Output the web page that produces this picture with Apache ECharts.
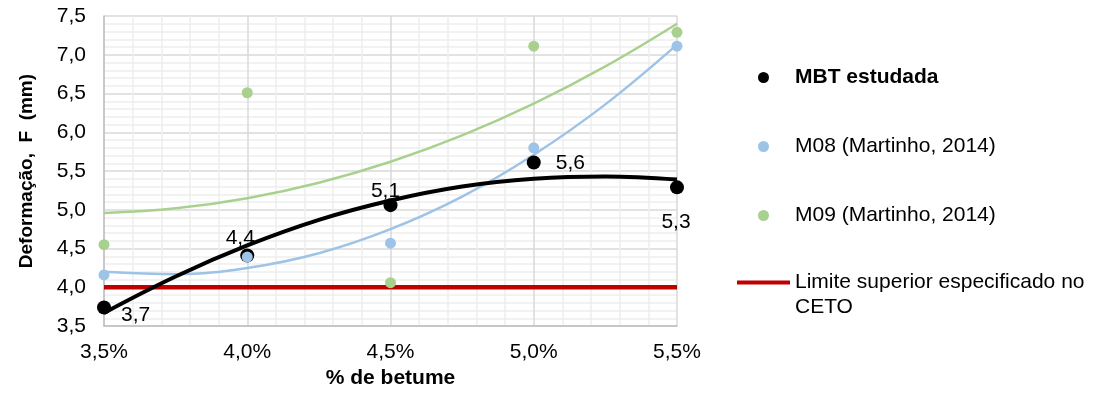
<!DOCTYPE html>
<html>
<head>
<meta charset="utf-8">
<script src="https://cdn.jsdelivr.net/npm/echarts@6/dist/echarts.min.js"></script>
<style>
  html, body { margin: 0; padding: 0; background: #fff; }
  #chart { width: 1093px; height: 394px; }
</style>
</head>
<body>
<div id="chart"></div>
<script>
// Bitumen content (%) of each tested mixture
const bitumen = [3.5, 4.0, 4.5, 5.0, 5.5];
// Deformation F (mm) per mixture
const mbt = [3.74, 4.41, 5.06, 5.61, 5.29];
const m08 = [4.16, 4.39, 4.57, 5.80, 7.11];
const m09 = [4.55, 6.51, 4.06, 7.11, 7.29];
// Specified upper limit (CETO)
const cetoLimit = 4.0;

// Polynomial trend curves, sampled along the bitumen range
const trendX = [3.5, 3.75, 4.0, 4.25, 4.5, 4.75, 5.0, 5.25, 5.5];
const mbtTrend = [3.67, 4.14, 4.54, 4.87, 5.12, 5.30, 5.40, 5.43, 5.39];
const m08Trend = [4.20, 4.17, 4.25, 4.44, 4.75, 5.17, 5.71, 6.36, 7.13];
const m09Trend = [4.96, 5.02, 5.15, 5.35, 5.62, 5.96, 6.37, 6.85, 7.40];

// Axis ticks
const xTicks = { min: 3.5, max: 5.5, step: 0.5 };
const yTicks = { min: 3.5, max: 7.5, step: 0.5 };

const names = {
  mbt: 'MBT estudada',
  m08: 'M08 (Martinho, 2014)',
  m09: 'M09 (Martinho, 2014)',
  limit: 'Limite superior especificado no CETO'
};

const FONT = '"Liberation Sans", Arial, sans-serif';
const FS = 21;
const comma = (v, d) => v.toFixed(d).replace('.', ',');
const pairs = (xs, ys) => xs.map((x, i) => [x, ys[i]]);

// where each MBT value label sits relative to its point
const mbtLabelPlace = [
  { position: 'right', offset: [5, 8] },
  { position: 'top', offset: [-7, 5] },
  { position: 'top', offset: [-5, 9] },
  { position: 'right', offset: [10, 1] },
  { position: 'bottom', offset: [-1, 12] }
];

const chart = echarts.init(document.getElementById('chart'), null, { renderer: 'canvas' });

const trendLine = (name, data, color, width, z) => ({
  name: name,
  type: 'line',
  data: pairs(trendX, data),
  smooth: 0.4,
  showSymbol: false,
  symbol: 'none',
  lineStyle: { color: color, width: width },
  silent: true,
  z: z
});

const legendText = { fontFamily: FONT, fontSize: FS, color: '#000' };

chart.setOption({
  animation: false,
  textStyle: { fontFamily: FONT },
  grid: { left: 104, right: 416, top: 16, bottom: 64, containLabel: false },
  legend: [
    {
      orient: 'vertical',
      left: 758,
      top: 67,
      padding: 0,
      itemWidth: 53,
      itemHeight: 11,
      itemGap: 48,
      textStyle: legendText,
      data: [
        { name: names.mbt, textStyle: { fontWeight: 'bold' } },
        { name: names.m08 },
        { name: names.m09 }
      ]
    },
    {
      orient: 'vertical',
      left: 737,
      top: 245,
      padding: 0,
      itemWidth: 53,
      itemHeight: 11,
      textStyle: Object.assign({ lineHeight: 25 }, legendText),
      formatter: () => '\nLimite superior especificado no\nCETO',
      data: [
        { name: names.limit, icon: 'path://M0,0H100V8H0Z' }
      ]
    }
  ],
  xAxis: {
    type: 'value',
    min: xTicks.min,
    max: xTicks.max,
    interval: xTicks.step,
    name: '% de betume',
    nameLocation: 'middle',
    nameGap: 35,
    nameTextStyle: { fontFamily: FONT, fontSize: FS, fontWeight: 'bold', color: '#000' },
    axisLine: { show: true, lineStyle: { color: '#bfbfbf', width: 1.5 } },
    axisTick: { show: false },
    axisLabel: {
      margin: 16,
      fontSize: FS,
      color: '#000',
      fontFamily: FONT,
      formatter: v => comma(v, 1) + '%'
    },
    splitLine: { show: true, lineStyle: { color: '#d9d9d9', width: 1.5 } },
    minorTick: { show: false, splitNumber: 5 },
    minorSplitLine: { show: true, lineStyle: { color: '#eeeeee', width: 1.5 } }
  },
  yAxis: {
    type: 'value',
    min: yTicks.min,
    max: yTicks.max,
    interval: yTicks.step,
    name: 'Deformação,  F  (mm)',
    nameLocation: 'middle',
    nameGap: 68,
    nameTextStyle: { fontFamily: FONT, fontSize: 19, fontWeight: 'bold', color: '#000' },
    axisLine: { show: true, lineStyle: { color: '#bfbfbf', width: 1.5 } },
    axisTick: { show: false },
    axisLabel: {
      margin: 18,
      fontSize: FS,
      color: '#000',
      fontFamily: FONT,
      formatter: v => comma(v, 1)
    },
    splitLine: { show: true, lineStyle: { color: '#d9d9d9', width: 1.5 } },
    minorTick: { show: false, splitNumber: 5 },
    minorSplitLine: { show: true, lineStyle: { color: '#eeeeee', width: 1.5 } }
  },
  series: [
    {
      name: names.limit,
      type: 'line',
      data: [[xTicks.min, cetoLimit], [xTicks.max, cetoLimit]],
      symbol: 'none',
      lineStyle: { color: '#c00000', width: 4.5 },
      itemStyle: { color: '#c00000' },
      z: 2
    },
    trendLine('trend-m09', m09Trend, '#a9d18e', 2.5, 3),
    trendLine('trend-m08', m08Trend, '#9dc3e6', 2.5, 3),
    trendLine('trend-mbt', mbtTrend, '#000000', 4, 4),
    {
      name: names.mbt,
      type: 'scatter',
      symbol: 'circle',
      symbolSize: 14,
      itemStyle: { color: '#000', opacity: 1 },
      data: pairs(bitumen, mbt).map((p, i) => ({
        value: p,
        label: mbtLabelPlace[i]
      })),
      label: {
        show: true,
        fontSize: FS,
        color: '#000',
        fontFamily: FONT,
        distance: 5,
        formatter: p => comma(p.value[1], 1)
      },
      z: 5
    },
    {
      name: names.m08,
      type: 'scatter',
      symbol: 'circle',
      symbolSize: 11,
      itemStyle: { color: '#9dc3e6', opacity: 1 },
      data: pairs(bitumen, m08),
      z: 6
    },
    {
      name: names.m09,
      type: 'scatter',
      symbol: 'circle',
      symbolSize: 11,
      itemStyle: { color: '#a9d18e', opacity: 1 },
      data: pairs(bitumen, m09),
      z: 6
    }
  ]
});
</script>
</body>
</html>
